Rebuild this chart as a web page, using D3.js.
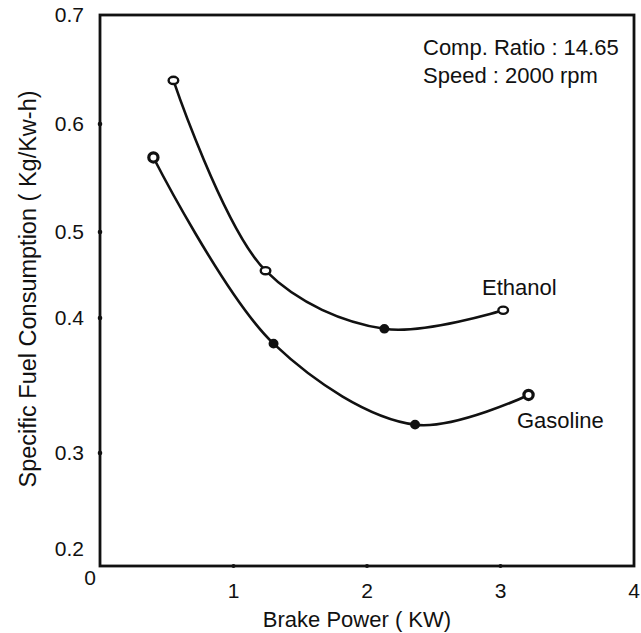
<!DOCTYPE html>
<html><head><meta charset="utf-8">
<script src="https://cdn.jsdelivr.net/npm/d3@7"></script>
<style>body{margin:0;background:#fff}svg{display:block}text{font-family:"Liberation Sans",Arial,sans-serif;fill:#111}</style>
</head><body><svg id="c" width="641" height="633"></svg>
<script>
const xTicks = [1, 2, 3, 4];
const yTicks = [0.2, 0.3, 0.4, 0.5, 0.6, 0.7];
const ethanolX = [0.55, 1.24, 2.13, 3.02];
const ethanolY = [0.640, 0.455, 0.392, 0.409];
const gasolineX = [0.40, 1.30, 2.36, 3.21];
const gasolineY = [0.569, 0.381, 0.321, 0.343];
const ethanolMarks = ["open", "open", "filled", "open"];
const gasolineMarks = ["ring", "filled", "filled", "ring"];

const svg = d3.select("#c");
const x = d3.scaleLinear().domain([0, 4]).range([100, 634]);
// hand-drawn axis of the original: uneven tick spacing
const y = d3.scaleLinear().domain([0.184, 0.2, 0.3, 0.4, 0.5, 0.6, 0.7]).range([566, 549, 453, 318, 232, 124, 15]);

// frame
svg.append("rect").attr("x", x(0)).attr("y", y(0.7)).attr("width", x(4) - x(0)).attr("height", y(0.184) - y(0.7))
  .attr("fill", "none").attr("stroke", "#111").attr("stroke-width", 2.8);

// ticks (small dots on axes)
svg.selectAll(".yt").data(yTicks.filter(d => d > 0.2 && d < 0.7)).join("circle")
  .attr("cx", x(0)).attr("cy", d => y(d)).attr("r", 2.3).attr("fill", "#111");
svg.selectAll(".xt").data(xTicks.filter(d => d < 4)).join("circle")
  .attr("cx", d => x(d)).attr("cy", y(0.184)).attr("r", 2).attr("fill", "#111");

// tick labels
svg.selectAll(".yl").data(yTicks).join("text")
  .attr("x", 84).attr("y", d => y(d) + 7).attr("text-anchor", "end").attr("font-size", 21).text(d => d.toFixed(1));
svg.selectAll(".xl").data(xTicks).join("text")
  .attr("x", d => x(d)).attr("y", 598).attr("text-anchor", "middle").attr("font-size", 21).text(d => d);
svg.append("text").attr("x", 90).attr("y", 585).attr("text-anchor", "middle").attr("font-size", 21).text("0");

// axis titles
svg.append("text").attr("x", 357).attr("y", 627).attr("text-anchor", "middle").attr("font-size", 22).text("Brake Power ( KW)");
svg.append("text").attr("transform", "translate(36,289) rotate(-90)").attr("text-anchor", "middle").attr("font-size", 23.5)
  .text("Specific Fuel Consumption ( Kg/Kw-h)");

// annotations
svg.append("text").attr("x", 423).attr("y", 55).attr("font-size", 22).text("Comp. Ratio : 14.65");
svg.append("text").attr("x", 423).attr("y", 83).attr("font-size", 22).text("Speed : 2000 rpm");
svg.append("text").attr("x", 482).attr("y", 295).attr("font-size", 22).text("Ethanol");
svg.append("text").attr("x", 517).attr("y", 428).attr("font-size", 22).text("Gasoline");

const line = d3.line().x(d => x(d[0])).y(d => y(d[1])).curve(d3.curveCatmullRom.alpha(0.5));
const rx = {open: 4.8, ring: 4.6, filled: 3.8};
const ry = {open: 3.6, ring: 4.6, filled: 3.6};
const sw = {open: 2.4, ring: 3.2, filled: 2.4};
function series(xs, ys, marks) {
  const pts = xs.map((v, i) => [v, ys[i], marks[i]]);
  svg.append("path").attr("d", line(pts)).attr("fill", "none").attr("stroke", "#111").attr("stroke-width", 2.6);
  svg.append("g").selectAll("ellipse").data(pts).join("ellipse")
    .attr("cx", d => x(d[0])).attr("cy", d => y(d[1]))
    .attr("rx", d => rx[d[2]]).attr("ry", d => ry[d[2]])
    .attr("fill", d => d[2] === "filled" ? "#111" : "#fff").attr("stroke", "#111").attr("stroke-width", d => sw[d[2]]);
}
series(ethanolX, ethanolY, ethanolMarks);
series(gasolineX, gasolineY, gasolineMarks);
</script></body></html>
